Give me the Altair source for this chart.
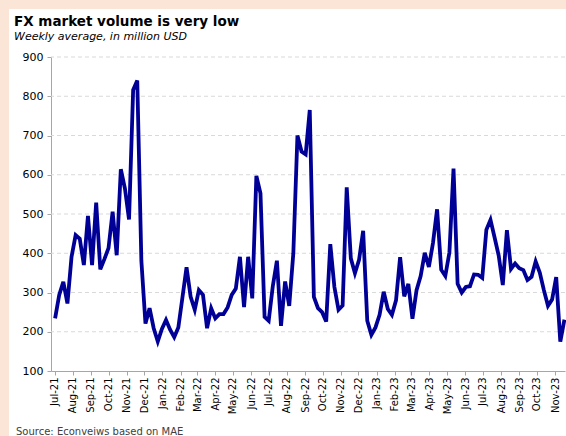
import altair as alt
import pandas as pd

# Weekly FX market volume (million USD)
volume_2021 = [234, 294, 327, 272, 391, 446, 437, 370, 495, 370, 529, 359, 385, 413,
               506, 395, 614, 565, 486, 816, 840, 381, 221, 260, 209, 175, 207, 230,
               205, 186, 211, 287, 364, 289, 256, 306, 294, 209, 260, 234, 245]
volume_2022 = [245, 262, 294, 310, 391, 263, 391, 285, 597, 553, 238, 228, 316, 381,
               215, 328, 266, 400, 700, 659, 652, 765, 289, 260, 250, 226, 423, 314,
               256, 267, 568, 387, 349, 383, 457, 228, 192, 211, 243]
volume_2023 = [302, 258, 243, 280, 390, 290, 322, 233, 306, 342, 401, 365, 426, 512,
               358, 342, 402, 616, 322, 300, 314, 316, 346, 345, 337, 460, 485, 440,
               394, 319, 459, 360, 374, 362, 357, 332, 340, 379, 351, 306, 266, 282,
               339, 175, 231]
first_week = "2021-07-02"
y_ticks = [100, 200, 300, 400, 500, 600, 700, 800, 900]
grid_values = [200, 300, 400, 500, 600, 700, 800, 900]
title_text = ["FX market volume is very low"]
subtitle_text = ["Weekly average, in million USD"]
source_text = ["Source: Econveiws based on MAE"]

values = volume_2021 + volume_2022 + volume_2023
dates = pd.date_range(first_week, periods=len(values), freq="7D").strftime("%Y-%m-%d")
df = pd.DataFrame({"date": list(dates), "volume": values})

FONT = "DejaVu Sans"
PEACH = "#FBE5D6"
W, H = 514, 314

yscale = alt.Scale(domain=[100, 900], nice=False, zero=False)
xscale = alt.Scale(type="utc",
                   domain=[alt.DateTime(year=2021, month=6, date=25, utc=True),
                           alt.DateTime(year=2023, month=11, date=18, utc=True)],
                   nice=False)
yaxis = alt.Axis(values=y_ticks, labelFontSize=11, labelFont=FONT,
                 labelColor="#000000", labelPadding=4,
                 domainColor="#a6a6a6", tickColor="#a6a6a6", tickSize=4,
                 grid=False)

grid = alt.Chart(pd.DataFrame({"g": grid_values})).mark_rule(
    color="#d9d9d9", strokeDash=[4, 3], strokeWidth=1
).encode(y=alt.Y("g:Q", scale=yscale, axis=yaxis, title=None))

line = alt.Chart(df).mark_line(color="#000096", strokeWidth=3.8, strokeJoin="miter").encode(
    x=alt.X("date:T", scale=xscale, title=None,
            axis=alt.Axis(tickCount={"interval": "month", "step": 1},
                          labelExpr="utcFormat(datum.value, '%b-%y')",
                          labelAngle=270, labelFontSize=10, labelFont=FONT,
                          labelColor="#000000", labelPadding=2,
                          domainColor="#a6a6a6", tickColor="#a6a6a6", tickSize=4,
                          grid=False, labelOverlap=False, labelFlush=False)),
    y=alt.Y("volume:Q", scale=yscale, title=None, axis=yaxis),
)

strip_df = pd.DataFrame({"k": [0]})
top_strip = alt.Chart(strip_df).mark_rect(color=PEACH).encode(
    x=alt.value(-51), x2=alt.value(W + 2), y=alt.value(-57), y2=alt.value(-48))
left_strip = alt.Chart(strip_df).mark_rect(color=PEACH).encode(
    x=alt.value(-51), x2=alt.value(-42), y=alt.value(-57), y2=alt.value(H + 66))

title = alt.Chart(pd.DataFrame({"t": title_text})).mark_text(
    align="left", baseline="alphabetic", font=FONT, fontSize=13.5, fontWeight="bold",
    color="#000000"
).encode(text="t:N", x=alt.value(-37), y=alt.value(-31))

subtitle = alt.Chart(pd.DataFrame({"t": subtitle_text})).mark_text(
    align="left", baseline="alphabetic", font=FONT, fontSize=11, fontStyle="italic",
    color="#000000"
).encode(text="t:N", x=alt.value(-37), y=alt.value(-17))

source = alt.Chart(pd.DataFrame({"t": source_text})).mark_text(
    align="left", baseline="middle", font=FONT, fontSize=10, color="#404040"
).encode(text="t:N", x=alt.value(-35), y=alt.value(375))

chart = alt.layer(top_strip, left_strip, grid, line, title, subtitle, source).properties(
    width=W, height=H,
    autosize=alt.AutoSizeParams(type="none"),
    padding={"left": 51, "top": 57, "right": 1, "bottom": 65},
    background="white",
).configure_view(stroke=None)

chart.save("out.html", embed_options={"renderer": "svg", "actions": False})
